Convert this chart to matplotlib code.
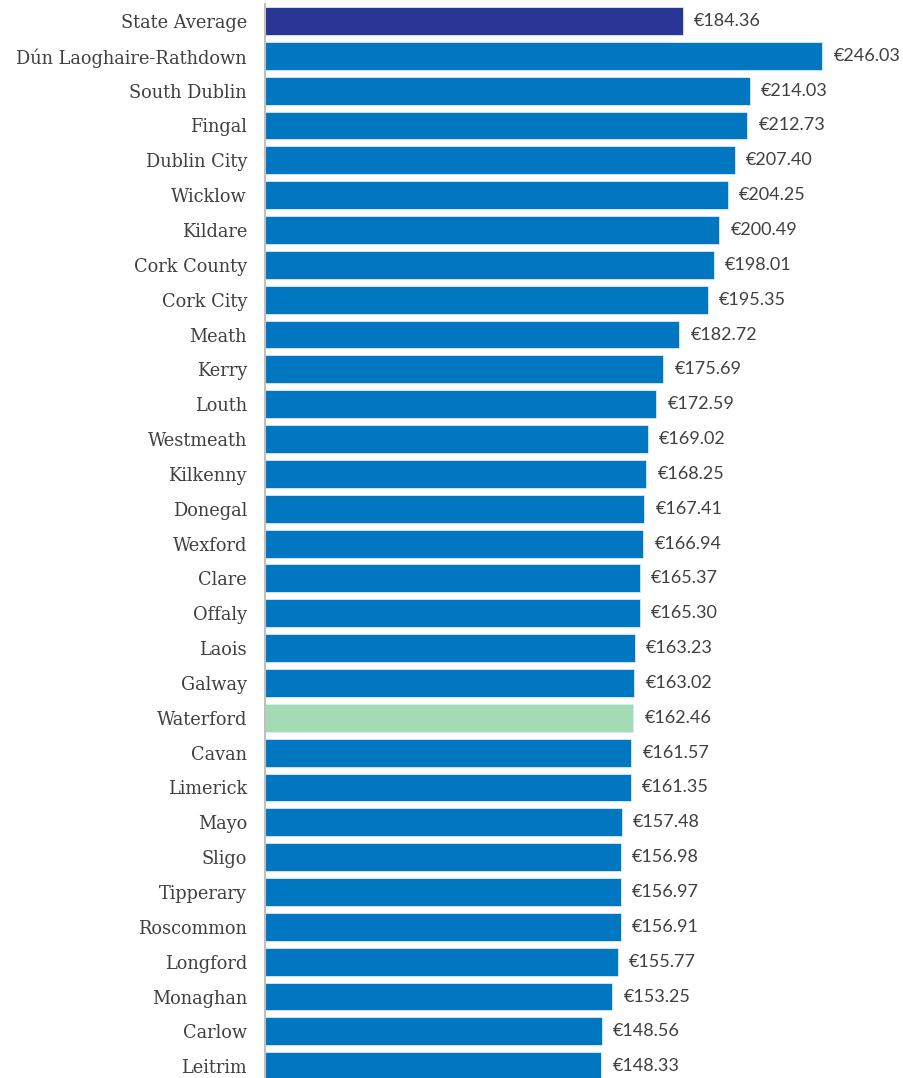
import matplotlib
matplotlib.use("Agg")
from matplotlib import pyplot as plt

# categories and values, top to bottom
areas = ["State Average", "Dún Laoghaire-Rathdown", "South Dublin", "Fingal", "Dublin City",
         "Wicklow", "Kildare", "Cork County", "Cork City", "Meath", "Kerry", "Louth",
         "Westmeath", "Kilkenny", "Donegal", "Wexford", "Clare", "Offaly", "Laois",
         "Galway", "Waterford", "Cavan", "Limerick", "Mayo", "Sligo", "Tipperary",
         "Roscommon", "Longford", "Monaghan", "Carlow", "Leitrim"]
values = [184.36, 246.03, 214.03, 212.73, 207.40, 204.25, 200.49, 198.01, 195.35, 182.72,
          175.69, 172.59, 169.02, 168.25, 167.41, 166.94, 165.37, 165.30, 163.23, 163.02,
          162.46, 161.57, 161.35, 157.48, 156.98, 156.97, 156.91, 155.77, 153.25, 148.56,
          148.33]

BLUE = "#0277c1"
NAVY = "#283593"
GREEN = "#a3dbb5"
TEXT = "#404040"

colors = []
for a in areas:
    if a == "State Average":
        colors.append(NAVY)
    elif a == "Waterford":
        colors.append(GREEN)
    else:
        colors.append(BLUE)

fig = plt.figure(figsize=(9.04, 10.78), dpi=100)
ax = fig.add_axes([265 / 904, -0.0052, (904 - 265) / 904, 1.0019])

ypos = list(range(len(areas)))
ax.barh(ypos, values, height=0.8, color=colors, edgecolor="#dbe9f5", linewidth=0.6)
ax.set_ylim(len(areas) - 0.5, -0.5)
ax.set_xlim(0, 282)

for y, v in zip(ypos, values):
    ax.text(v + 5, y, "€{:.2f}".format(v), va="center", ha="left",
            fontsize=13, color=TEXT, family="Lato")

ax.set_yticks(ypos)
ax.set_yticklabels(areas, fontsize=12.8, color=TEXT, family="DejaVu Serif")
ax.tick_params(axis="y", length=0, pad=13)
ax.set_xticks([])

for s in ["top", "right", "bottom"]:
    ax.spines[s].set_visible(False)
ax.spines["left"].set_color("#bfbfbf")
ax.spines["left"].set_linewidth(1.5)

fig.savefig("out.png", dpi=100)
